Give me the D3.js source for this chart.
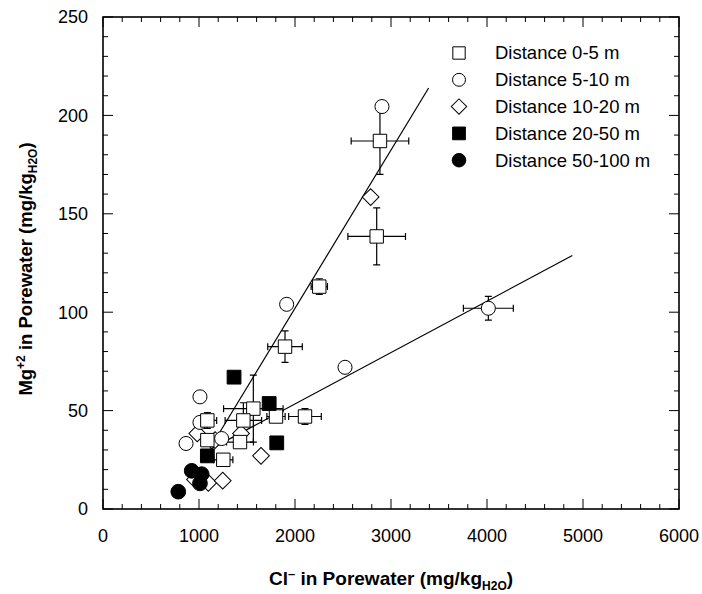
<!DOCTYPE html>
<html>
<head>
<meta charset="utf-8">
<script src="https://cdnjs.cloudflare.com/ajax/libs/d3/7.8.5/d3.min.js"></script>
<style>
    body { margin: 0; background: #fff; }
</style>
</head>
<body>
<div id="vis"></div>
<script>
// points: [Cl, Mg, xErr, yErr]
var dist0to5 = [
    [2885, 187, 300, 17], [2851, 138.5, 300, 14.5], [2253, 113, 85, 4],
    [1896, 82.5, 180, 8], [1566, 51, 310, 17], [1462, 45, 190, 9],
    [1802, 47, 95, 0], [2104, 47, 170, 4], [1087, 45, 97, 4],
    [1427, 34, 140, 0], [1253, 25, 100, 0], [1087, 35, 0, 0]
];
var dist5to10 = [
    [2906, 204.5, 0, 0], [1913, 104, 0, 0], [4014, 102, 260, 6],
    [2521, 72, 0, 0], [1010, 57, 0, 0], [1010, 44, 0, 0],
    [865, 33.3, 0, 0], [1236, 35.8, 0, 0]
];
var dist10to20 = [
    [2788, 158.5, 0, 0], [982, 38.4, 0, 0], [1167, 35, 0, 0],
    [1438, 38.4, 0, 0], [1646, 27, 0, 0], [958, 15, 0, 0],
    [1097, 13.3, 0, 0], [1247, 14.4, 0, 0]
];
var dist20to50 = [
    [1365, 67, 0, 0], [1731, 53.6, 0, 0], [1087, 27, 0, 0], [1810, 33.6, 0, 0]
];
var dist50to100 = [
    [924, 19.4, 0, 0], [1028, 17.7, 0, 0], [1010, 13, 0, 0], [784, 8.8, 0, 0]
];

// fitted lines: [slope, intercept, xStart, xEnd]
var fitLines = [
    [0.0804, -58.8, 1115, 3392],
    [0.0261, 1.2, 1115, 4889]
];

var legendLabels = ['Distance 0-5 m', 'Distance 5-10 m', 'Distance 10-20 m',
    'Distance 20-50 m', 'Distance 50-100 m'];
var xTicks = [0, 1000, 2000, 3000, 4000, 5000, 6000];
var yTicks = [0, 50, 100, 150, 200, 250];

(function(){
    var width = 702;
    var height = 594;

    var margin = { top: 17, bottom: 85, left: 103, right: 23 };

    var svg = d3.select("#vis")
        .append("svg")
            .attr("width", width)
            .attr("height", height)
            .style("font-family", '"Liberation Sans", Arial, Helvetica, sans-serif');

    var g = svg.append("g")
        .attr("transform", "translate(" + margin.left + "," + margin.top + ")");

    var w = width - margin.left - margin.right;
    var h = height - margin.top - margin.bottom;

    var xScale = d3.scaleLinear().domain([0, 6000]).range([0, w]);
    var yScale = d3.scaleLinear().domain([0, 250]).range([h, 0]);

    var xMinor = d3.range(0, 6001, 200);
    var yMinor = d3.range(0, 251, 10);

    // inward ticks on all four sides
    function tickLen(major) { return major ? 10 : 5; }

    g.selectAll('.xtick-b')
        .data(xMinor)
        .enter()
        .append('line')
        .attr('x1', function(d){ return xScale(d); })
        .attr('x2', function(d){ return xScale(d); })
        .attr('y1', h)
        .attr('y2', function(d){ return h - tickLen(xTicks.indexOf(d) >= 0); })
        .attr('stroke', 'black');

    g.selectAll('.xtick-t')
        .data(xMinor)
        .enter()
        .append('line')
        .attr('x1', function(d){ return xScale(d); })
        .attr('x2', function(d){ return xScale(d); })
        .attr('y1', 0)
        .attr('y2', function(d){ return tickLen(xTicks.indexOf(d) >= 0); })
        .attr('stroke', 'black');

    g.selectAll('.ytick-l')
        .data(yMinor)
        .enter()
        .append('line')
        .attr('y1', function(d){ return yScale(d); })
        .attr('y2', function(d){ return yScale(d); })
        .attr('x1', 0)
        .attr('x2', function(d){ return tickLen(yTicks.indexOf(d) >= 0); })
        .attr('stroke', 'black');

    g.selectAll('.ytick-r')
        .data(yMinor)
        .enter()
        .append('line')
        .attr('y1', function(d){ return yScale(d); })
        .attr('y2', function(d){ return yScale(d); })
        .attr('x1', w)
        .attr('x2', function(d){ return w - tickLen(yTicks.indexOf(d) >= 0); })
        .attr('stroke', 'black');

    g.append('rect')
        .attr('width', w)
        .attr('height', h)
        .attr('fill', 'none')
        .attr('stroke', 'black')
        .attr('stroke-width', 1.6);

    g.selectAll('.xlabel')
        .data(xTicks)
        .enter()
        .append('text')
        .attr('x', function(d){ return xScale(d); })
        .attr('y', h + 33)
        .attr('text-anchor', 'middle')
        .attr('font-size', '18px')
        .text(function(d){ return d; });

    g.selectAll('.ylabel')
        .data(yTicks)
        .enter()
        .append('text')
        .attr('x', -15)
        .attr('y', function(d){ return yScale(d); })
        .attr('dy', '0.35em')
        .attr('text-anchor', 'end')
        .attr('font-size', '18px')
        .text(function(d){ return d; });

    // axis titles
    var xTitle = svg.append('text')
        .attr('x', margin.left + w / 2)
        .attr('y', 585)
        .attr('text-anchor', 'middle')
        .attr('font-size', '19px')
        .attr('font-weight', 'bold');
    xTitle.append('tspan').text('Cl');
    xTitle.append('tspan').attr('dy', -7).attr('font-size', '13px').text('\u2013');
    xTitle.append('tspan').attr('dy', 7).text(' in Porewater (mg/kg');
    xTitle.append('tspan').attr('dy', 5).attr('font-size', '12px').text('H2O');
    xTitle.append('tspan').attr('dy', -5).text(')');

    var yTitle = svg.append('text')
        .attr('transform', 'translate(32,' + (margin.top + h / 2 + 6) + ') rotate(-90)')
        .attr('text-anchor', 'middle')
        .attr('font-size', '18.5px')
        .attr('font-weight', 'bold');
    yTitle.append('tspan').text('Mg');
    yTitle.append('tspan').attr('dy', -7).attr('font-size', '12px').text('+2');
    yTitle.append('tspan').attr('dy', 7).text(' in Porewater (mg/kg');
    yTitle.append('tspan').attr('dy', 5).attr('font-size', '12px').text('H2O');
    yTitle.append('tspan').attr('dy', -5).text(')');

    // regression lines
    g.selectAll('.fit')
        .data(fitLines)
        .enter()
        .append('line')
        .attr('x1', function(d){ return xScale(d[2]); })
        .attr('y1', function(d){ return yScale(d[0] * d[2] + d[1]); })
        .attr('x2', function(d){ return xScale(d[3]); })
        .attr('y2', function(d){ return yScale(d[0] * d[3] + d[1]); })
        .attr('stroke', 'black')
        .attr('stroke-width', 1.2);

    var series = [
        { data: dist10to20, shape: d3.symbolSquare, size: 140, fill: '#fff', rot: 45 },
        { data: dist5to10, shape: d3.symbolCircle, size: 155, fill: '#fff', rot: 0 },
        { data: dist0to5, shape: d3.symbolSquare, size: 180, fill: '#fff', rot: 0 },
        { data: dist20to50, shape: d3.symbolSquare, size: 190, fill: '#000', rot: 0 },
        { data: dist50to100, shape: d3.symbolCircle, size: 170, fill: '#000', rot: 0 }
    ];
    var legendOrder = [2, 1, 0, 3, 4];

    // error bars
    var allPoints = dist0to5.concat(dist5to10);
    var cap = 3.5;
    g.selectAll('.err')
        .data(allPoints.filter(function(d){ return d[2] > 0 || d[3] > 0; }))
        .enter()
        .append('path')
        .attr('class', 'err')
        .attr('fill', 'none')
        .attr('stroke', 'black')
        .attr('stroke-width', 1.2)
        .attr('d', function(d){
            var cx = xScale(d[0]), cy = yScale(d[1]);
            var p = '';
            if (d[2] > 0) {
                var x0 = xScale(d[0] - d[2]), x1 = xScale(d[0] + d[2]);
                p += 'M' + x0 + ',' + cy + 'L' + x1 + ',' + cy;
                p += 'M' + x0 + ',' + (cy - cap) + 'L' + x0 + ',' + (cy + cap);
                p += 'M' + x1 + ',' + (cy - cap) + 'L' + x1 + ',' + (cy + cap);
            }
            if (d[3] > 0) {
                var y0 = yScale(d[1] - d[3]), y1 = yScale(d[1] + d[3]);
                p += 'M' + cx + ',' + y0 + 'L' + cx + ',' + y1;
                p += 'M' + (cx - cap) + ',' + y0 + 'L' + (cx + cap) + ',' + y0;
                p += 'M' + (cx - cap) + ',' + y1 + 'L' + (cx + cap) + ',' + y1;
            }
            return p;
        });

    series.forEach(function(s){
        var sym = d3.symbol().type(s.shape).size(s.size);
        g.selectAll(null)
            .data(s.data)
            .enter()
            .append('path')
            .attr('transform', function(d){
                return 'translate(' + xScale(d[0]) + ',' + yScale(d[1]) + ') rotate(' + s.rot + ')';
            })
            .attr('d', sym())
            .attr('fill', s.fill)
            .attr('stroke', 'black')
            .attr('stroke-width', 1);
    });

    // legend
    var legend = svg.append('g')
        .attr('transform', 'translate(459,53)');

    legendOrder.forEach(function(si, i){
        var s = series[si];
        var sym = d3.symbol().type(s.shape).size(s.size * 0.85);
        var row = legend.append('g')
            .attr('transform', 'translate(0,' + (i * 26.8) + ')');
        row.append('path')
            .attr('d', sym())
            .attr('transform', 'rotate(' + s.rot + ')')
            .attr('fill', s.fill)
            .attr('stroke', 'black')
            .attr('stroke-width', 1);
        row.append('text')
            .attr('x', 36)
            .attr('dy', '0.35em')
            .attr('font-size', '18.5px')
            .text(legendLabels[i]);
    });
})();
</script>
</body>
</html>
